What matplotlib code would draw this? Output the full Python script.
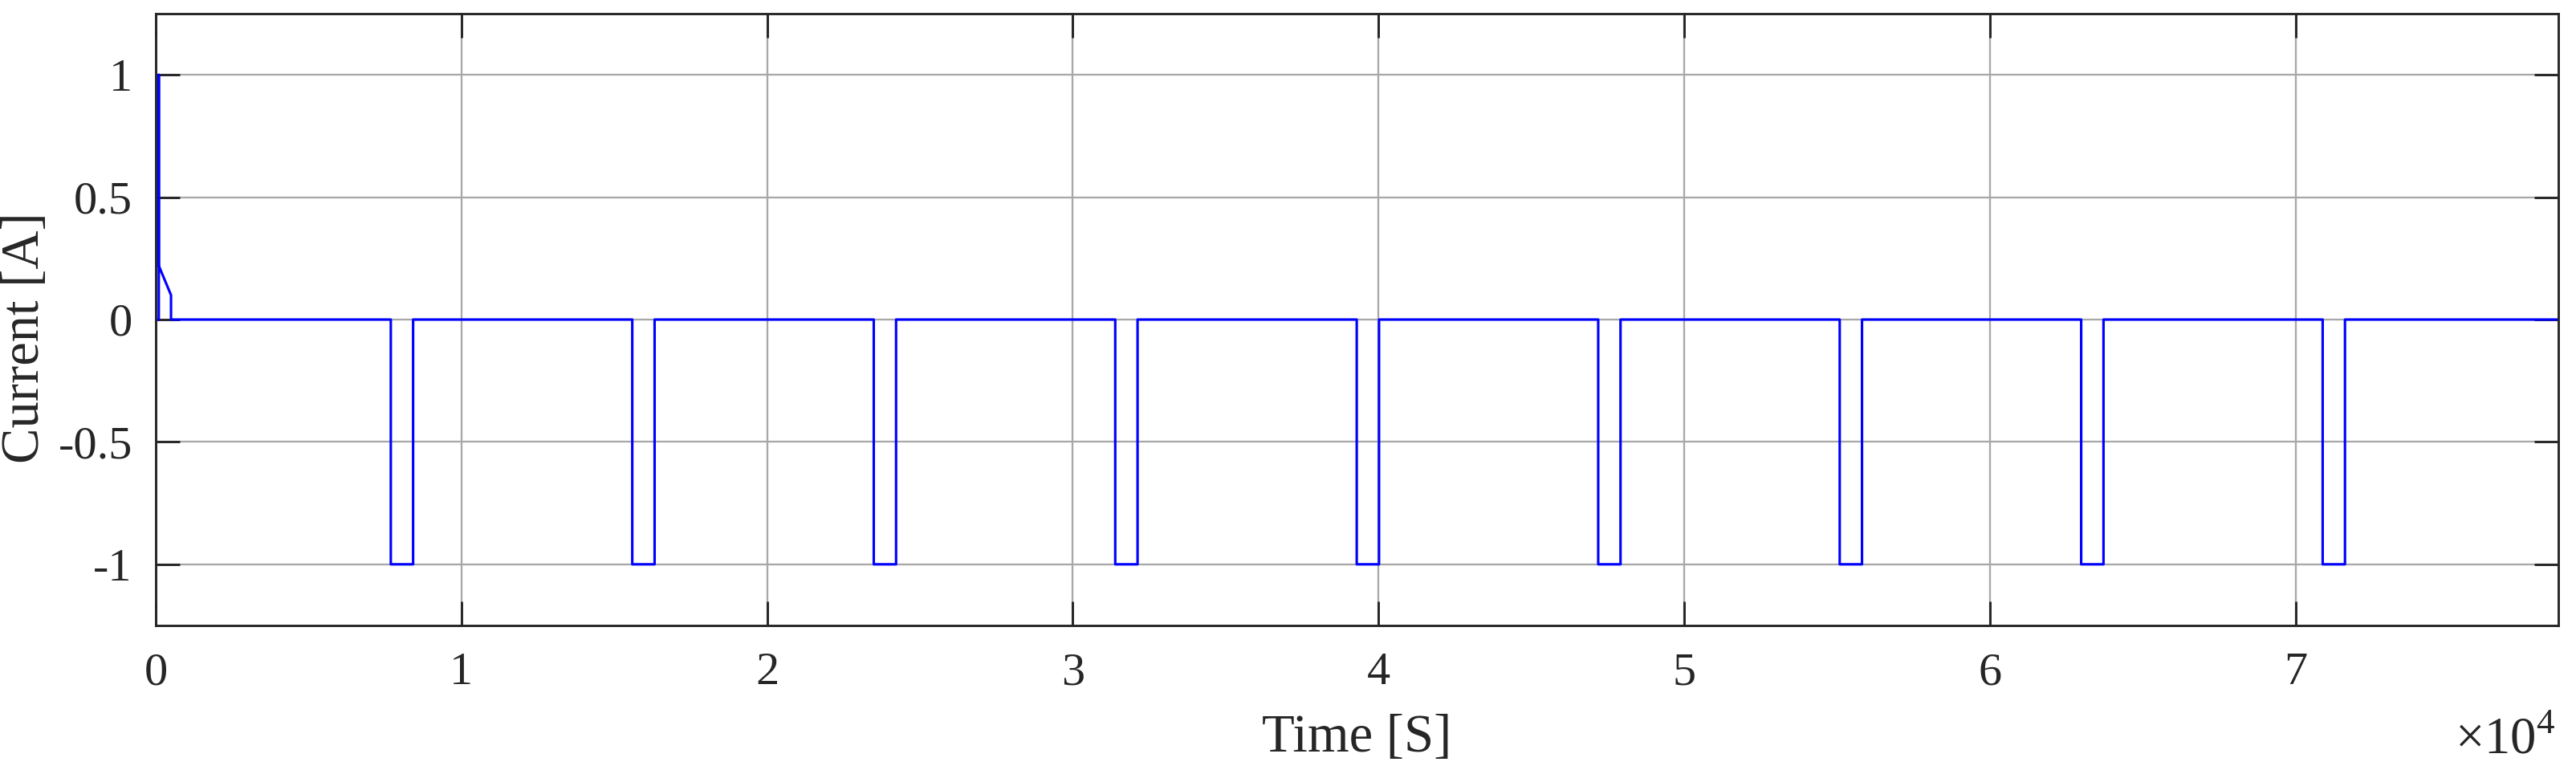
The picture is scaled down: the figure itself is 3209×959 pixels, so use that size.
import matplotlib.pyplot as plt
from matplotlib.ticker import FuncFormatter

plt.rcParams['font.family'] = ['Liberation Serif', 'DejaVu Serif']
plt.rcParams['mathtext.fontset'] = 'custom'
plt.rcParams['mathtext.rm'] = 'Liberation Serif'

# initial transient (time [s], current [A])
t_start = [0, 100, 100, 100, 500, 500]
i_start = [0, 0, 1.0, 0.22, 0.10, 0]

# discharge pulses at -1 A
pulse_on = [7690, 15590, 23490, 31390, 39290, 47190, 55090, 62990, 70890]
pulse_off = [8420, 16320, 24220, 32120, 40020, 47920, 55820, 63720, 71620]
pulse_level = -1.0
t_end = 78600

xticks = [0, 10000, 20000, 30000, 40000, 50000, 60000, 70000]
yticks = [-1, -0.5, 0, 0.5, 1]

t = list(t_start)
cur = list(i_start)
for on, off in zip(pulse_on, pulse_off):
    t += [on, on, off, off]
    cur += [0, pulse_level, pulse_level, 0]
t.append(t_end)
cur.append(0)

fig = plt.figure(figsize=(3209/300, 959/300), dpi=300)
ax = fig.add_axes([194/3209, 1-779/959, (3187-194)/3209, (779-17)/959])

ax.plot(t, cur, color='#0000ff', linewidth=0.75)

ax.set_xlim(0, t_end)
ax.set_ylim(-1.25, 1.25)
ax.set_xticks(xticks)
ax.set_yticks(yticks)
ax.xaxis.set_major_formatter(FuncFormatter(lambda v, p: '%d' % round(v/1e4)))
ax.yaxis.set_major_formatter(FuncFormatter(lambda v, p: '%g' % v))
ax.grid(True, color='#a8a8a8', linewidth=0.55)
ax.tick_params(direction='in', length=7.2, width=0.7, labelsize=14,
               top=True, right=True, colors='#262626', pad=7)
ax.tick_params(axis='x', pad=8)
for s in ax.spines.values():
    s.set_linewidth(0.7)
    s.set_color('#262626')

ax.set_xlabel('Time [S]', fontsize=16, color='#262626', labelpad=6)
ax.set_ylabel('Current [A]', fontsize=16, color='#262626')
ax.yaxis.set_label_coords(-0.044, 0.47)
ax.text(0.999, -0.15, r'$\times 10^{4}$', transform=ax.transAxes,
        ha='right', va='top', fontsize=15.5, color='#262626')

fig.savefig('out.png', dpi=300)
